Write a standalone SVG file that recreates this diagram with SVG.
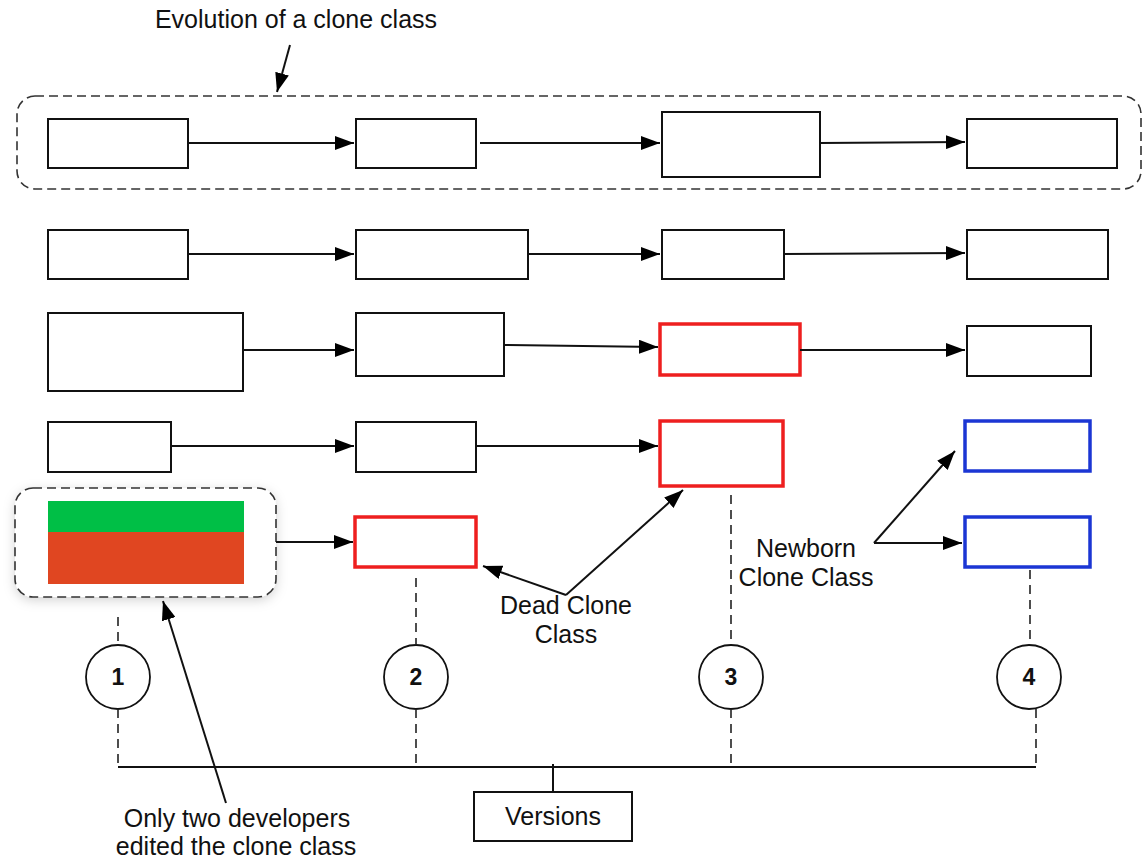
<svg xmlns="http://www.w3.org/2000/svg" width="1143" height="860" viewBox="0 0 1143 860">
<style>
.box{fill:#fff;stroke:#111;stroke-width:2}
.red{fill:#fff;stroke:#ee1f1f;stroke-width:3.5}
.blue{fill:#fff;stroke:#1b36d4;stroke-width:3.5}
.dash{fill:none;stroke:#333;stroke-width:1.6;stroke-dasharray:9 5}
.vdash{fill:none;stroke:#222;stroke-width:1.6;stroke-dasharray:9 6}
.conn{fill:none;stroke:#111;stroke-width:2;marker-end:url(#ah)}
.txt{font-family:"Liberation Sans",Arial,sans-serif;font-size:25px;fill:#111;text-anchor:middle}
.num{font-family:"Liberation Sans",Arial,sans-serif;font-size:23px;font-weight:bold;fill:#111;text-anchor:middle}
.circ{fill:#fff;stroke:#111;stroke-width:1.8}
</style>
<defs>
<marker id="ah" viewBox="0 0 19 14" refX="19" refY="7" markerWidth="19" markerHeight="14" orient="auto" markerUnits="userSpaceOnUse"><path d="M0,0 L19,7 L0,14 z" fill="#000"/></marker>
<filter id="sh" x="-20%" y="-20%" width="140%" height="150%"><feDropShadow dx="0" dy="3" stdDeviation="6" flood-color="#000" flood-opacity="0.18"/></filter>
</defs>
<rect width="1143" height="860" fill="#fff"/>

<g id="group-evolution">
<rect class="dash" x="17" y="96" width="1124" height="93" rx="18"/>
</g>
<g id="group-developers">
<rect x="15" y="488" width="261" height="109" rx="18" fill="#fff" filter="url(#sh)"/>
<rect class="dash" x="15" y="488" width="261" height="109" rx="18"/>
</g>

<g id="row1">
<rect id="r1a" class="box" x="48" y="119" width="140" height="49"/>
<rect id="r1b" class="box" x="356" y="119" width="120" height="49"/>
<rect id="r1c" class="box" x="662" y="112" width="158" height="65"/>
<rect id="r1d" class="box" x="967" y="119" width="150" height="49"/>
</g>
<g id="row2">
<rect id="r2a" class="box" x="48" y="230" width="140" height="49"/>
<rect id="r2b" class="box" x="356" y="230" width="172" height="49"/>
<rect id="r2c" class="box" x="662" y="230" width="122" height="49"/>
<rect id="r2d" class="box" x="967" y="230" width="141" height="49"/>
</g>
<g id="row3">
<rect id="r3a" class="box" x="48" y="313" width="195" height="78"/>
<rect id="r3b" class="box" x="356" y="313" width="148" height="63"/>
<rect id="r3c" class="red" x="660" y="324" width="140" height="51"/>
<rect id="r3d" class="box" x="967" y="326" width="124" height="50"/>
</g>
<g id="row4">
<rect id="r4a" class="box" x="48" y="422" width="123" height="50"/>
<rect id="r4b" class="box" x="356" y="422" width="120" height="50"/>
<rect id="r4c" class="red" x="660" y="421" width="123" height="65"/>
<rect id="r4d" class="blue" x="965" y="421" width="125" height="50"/>
</g>
<g id="row5">
<g id="r5a">
<rect x="48" y="501" width="196" height="31" fill="#00bf46"/>
<rect x="48" y="532" width="196" height="52" fill="#e04621"/>
</g>
<rect id="r5b" class="red" x="355" y="517" width="121" height="50"/>
<rect id="r5d" class="blue" x="965" y="517" width="125" height="50"/>
</g>

<g id="versions">
<g id="v1"><circle class="circ" cx="118" cy="677" r="32"/><text class="num" x="118" y="685">1</text></g>
<g id="v2"><circle class="circ" cx="416" cy="677" r="32"/><text class="num" x="416" y="685">2</text></g>
<g id="v3"><circle class="circ" cx="731" cy="677" r="32"/><text class="num" x="731" y="685">3</text></g>
<g id="v4"><circle class="circ" cx="1029" cy="677" r="32"/><text class="num" x="1029" y="685">4</text></g>
<g id="versions-box"><rect class="box" x="474" y="792" width="158" height="49"/><text class="txt" x="553" y="825">Versions</text></g>
</g>

<g id="connectors">
<path class="conn" d="M188,143 L354,143"/>
<path class="conn" d="M480,143 L660,143"/>
<path class="conn" d="M820,143 L965,142"/>
<path class="conn" d="M188,254 L354,254"/>
<path class="conn" d="M528,254 L660,254"/>
<path class="conn" d="M784,254 L965,253"/>
<path class="conn" d="M243,350 L354,350"/>
<path class="conn" d="M504,345 L658,347"/>
<path class="conn" d="M800,350 L965,350"/>
<path class="conn" d="M171,446 L354,446"/>
<path class="conn" d="M476,446 L658,446"/>
<path class="conn" d="M276,542 L353,542"/>
<path class="conn" d="M290,45 L277,92"/>
<path class="conn" d="M566,595 L483,566"/>
<path class="conn" d="M566,595 L683,490"/>
<path class="conn" d="M874,543 L962,543"/>
<path class="conn" d="M874,543 L955,451"/>
<path class="conn" d="M226,803 L163,601"/>
<path class="vdash" d="M118,617 L118,645 M118,709 L118,767"/>
<path class="vdash" d="M416,578 L416,645 M416,709 L416,767"/>
<path class="vdash" d="M731,495 L731,645 M731,709 L731,767"/>
<path class="vdash" d="M1030,570 L1030,645 M1036,709 L1036,767"/>
<path d="M118,767 L1036,767 M553,764 L553,792" fill="none" stroke="#111" stroke-width="2"/>
</g>

<g id="labels">
<text class="txt" x="296" y="28">Evolution of a clone class</text>
<text class="txt" x="566" y="614">Dead Clone</text>
<text class="txt" x="566" y="643">Class</text>
<text class="txt" x="806" y="557">Newborn</text>
<text class="txt" x="806" y="586">Clone Class</text>
<text class="txt" x="237" y="827">Only two developers</text>
<text class="txt" x="236" y="855">edited the clone class</text>
</g>
</svg>
